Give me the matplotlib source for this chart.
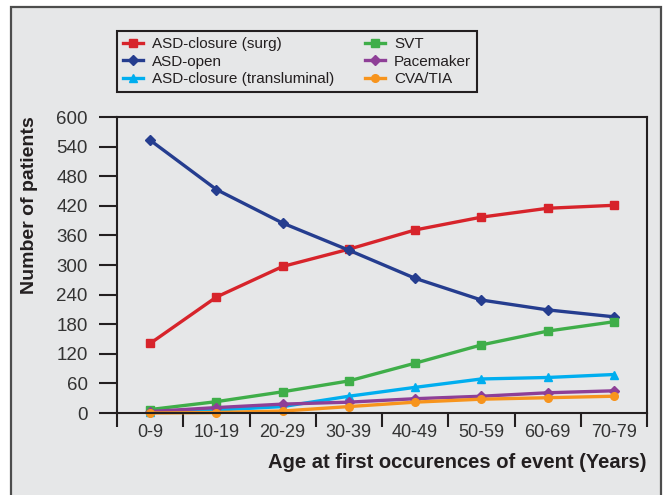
import matplotlib
matplotlib.use("Agg")
import matplotlib.pyplot as plt
from matplotlib.patches import Rectangle

# age groups and patient counts
ages = ["0-9", "10-19", "20-29", "30-39", "40-49", "50-59", "60-69", "70-79"]
asd_surg = [141, 235, 297, 332, 371, 397, 415, 421]
asd_open = [553, 453, 385, 330, 273, 229, 209, 195]
asd_trans = [3, 6, 13, 34, 52, 69, 72, 78]
svt = [7, 23, 43, 65, 101, 138, 166, 185]
pacemaker = [3, 11, 18, 22, 29, 34, 41, 45]
cva_tia = [0, 1, 4, 13, 22, 28, 31, 34]

bg = "#e6e7e8"
dark = "#231f20"

plt.rcParams["font.family"] = ["Liberation Sans", "DejaVu Sans"]

fig = plt.figure(figsize=(6.65, 4.95), dpi=100)
fig.patch.set_facecolor("white")
# grey panel with a dark frame behind the chart
fig.patches.append(Rectangle((11 / 665, -0.05), 650 / 665, 1.05 - 7 / 495,
                             transform=fig.transFigure, facecolor=bg,
                             edgecolor="#4d4d4d", linewidth=1.6, zorder=-10))

ax = fig.add_axes([117 / 665, 1 - 413 / 495, 530 / 665, 296 / 495])
ax.set_facecolor(bg)

x = [i + 0.5 for i in range(len(ages))]
series = [
    ("ASD-closure (surg)", asd_surg, "#d7242b", "s"),
    ("ASD-open", asd_open, "#253d8f", "D"),
    ("ASD-closure (transluminal)", asd_trans, "#00aeef", "^"),
    ("SVT", svt, "#3fae49", "s"),
    ("Pacemaker", pacemaker, "#8e3f97", "D"),
    ("CVA/TIA", cva_tia, "#f7941d", "o"),
]
for label, vals, color, marker in series:
    ax.plot(x, vals, color=color, marker=marker, markersize=5.5, linewidth=2.4,
            label=label, clip_on=False)

ax.set_xlim(0, 8)
ax.set_ylim(0, 600)
ax.set_yticks(range(0, 601, 60))
ax.set_xticks(range(0, 9))
ax.set_xticklabels([])
ax.set_xticks(x, minor=True)
ax.set_xticklabels(ages, minor=True)
ax.tick_params(axis="x", which="major", length=10, width=1.5, color=dark)
ax.tick_params(axis="x", which="minor", length=0, pad=8, labelsize=13, labelcolor="#333333")
ax.tick_params(axis="y", length=13, width=1.5, color=dark, pad=8, labelsize=13.5,
               labelcolor="#333333")
for s in ax.spines.values():
    s.set_linewidth(1.5)
    s.set_color(dark)

leg = ax.legend(loc="upper left", bbox_to_anchor=(0, 1.29), borderaxespad=0,
                ncol=2, fontsize=11, frameon=True, fancybox=False,
                facecolor=bg, edgecolor=dark, handlelength=1.3,
                handletextpad=0.6, columnspacing=2.0, borderpad=0.4,
                labelspacing=0.22)
leg.get_frame().set_linewidth(1.5)
leg.get_frame().set_alpha(1)
for t in leg.get_texts():
    t.set_color(dark)

fig.text(30 / 665, 1 - 205 / 495, "Number of patients", rotation=90, ha="center",
         va="center", fontsize=14, fontweight="bold", color=dark)
fig.text(647 / 665, 1 - 462 / 495, "Age at first occurences of event (Years)",
         ha="right", va="center", fontsize=14.5, fontweight="bold", color=dark)

fig.savefig("out.png", dpi=100, facecolor=fig.get_facecolor())
